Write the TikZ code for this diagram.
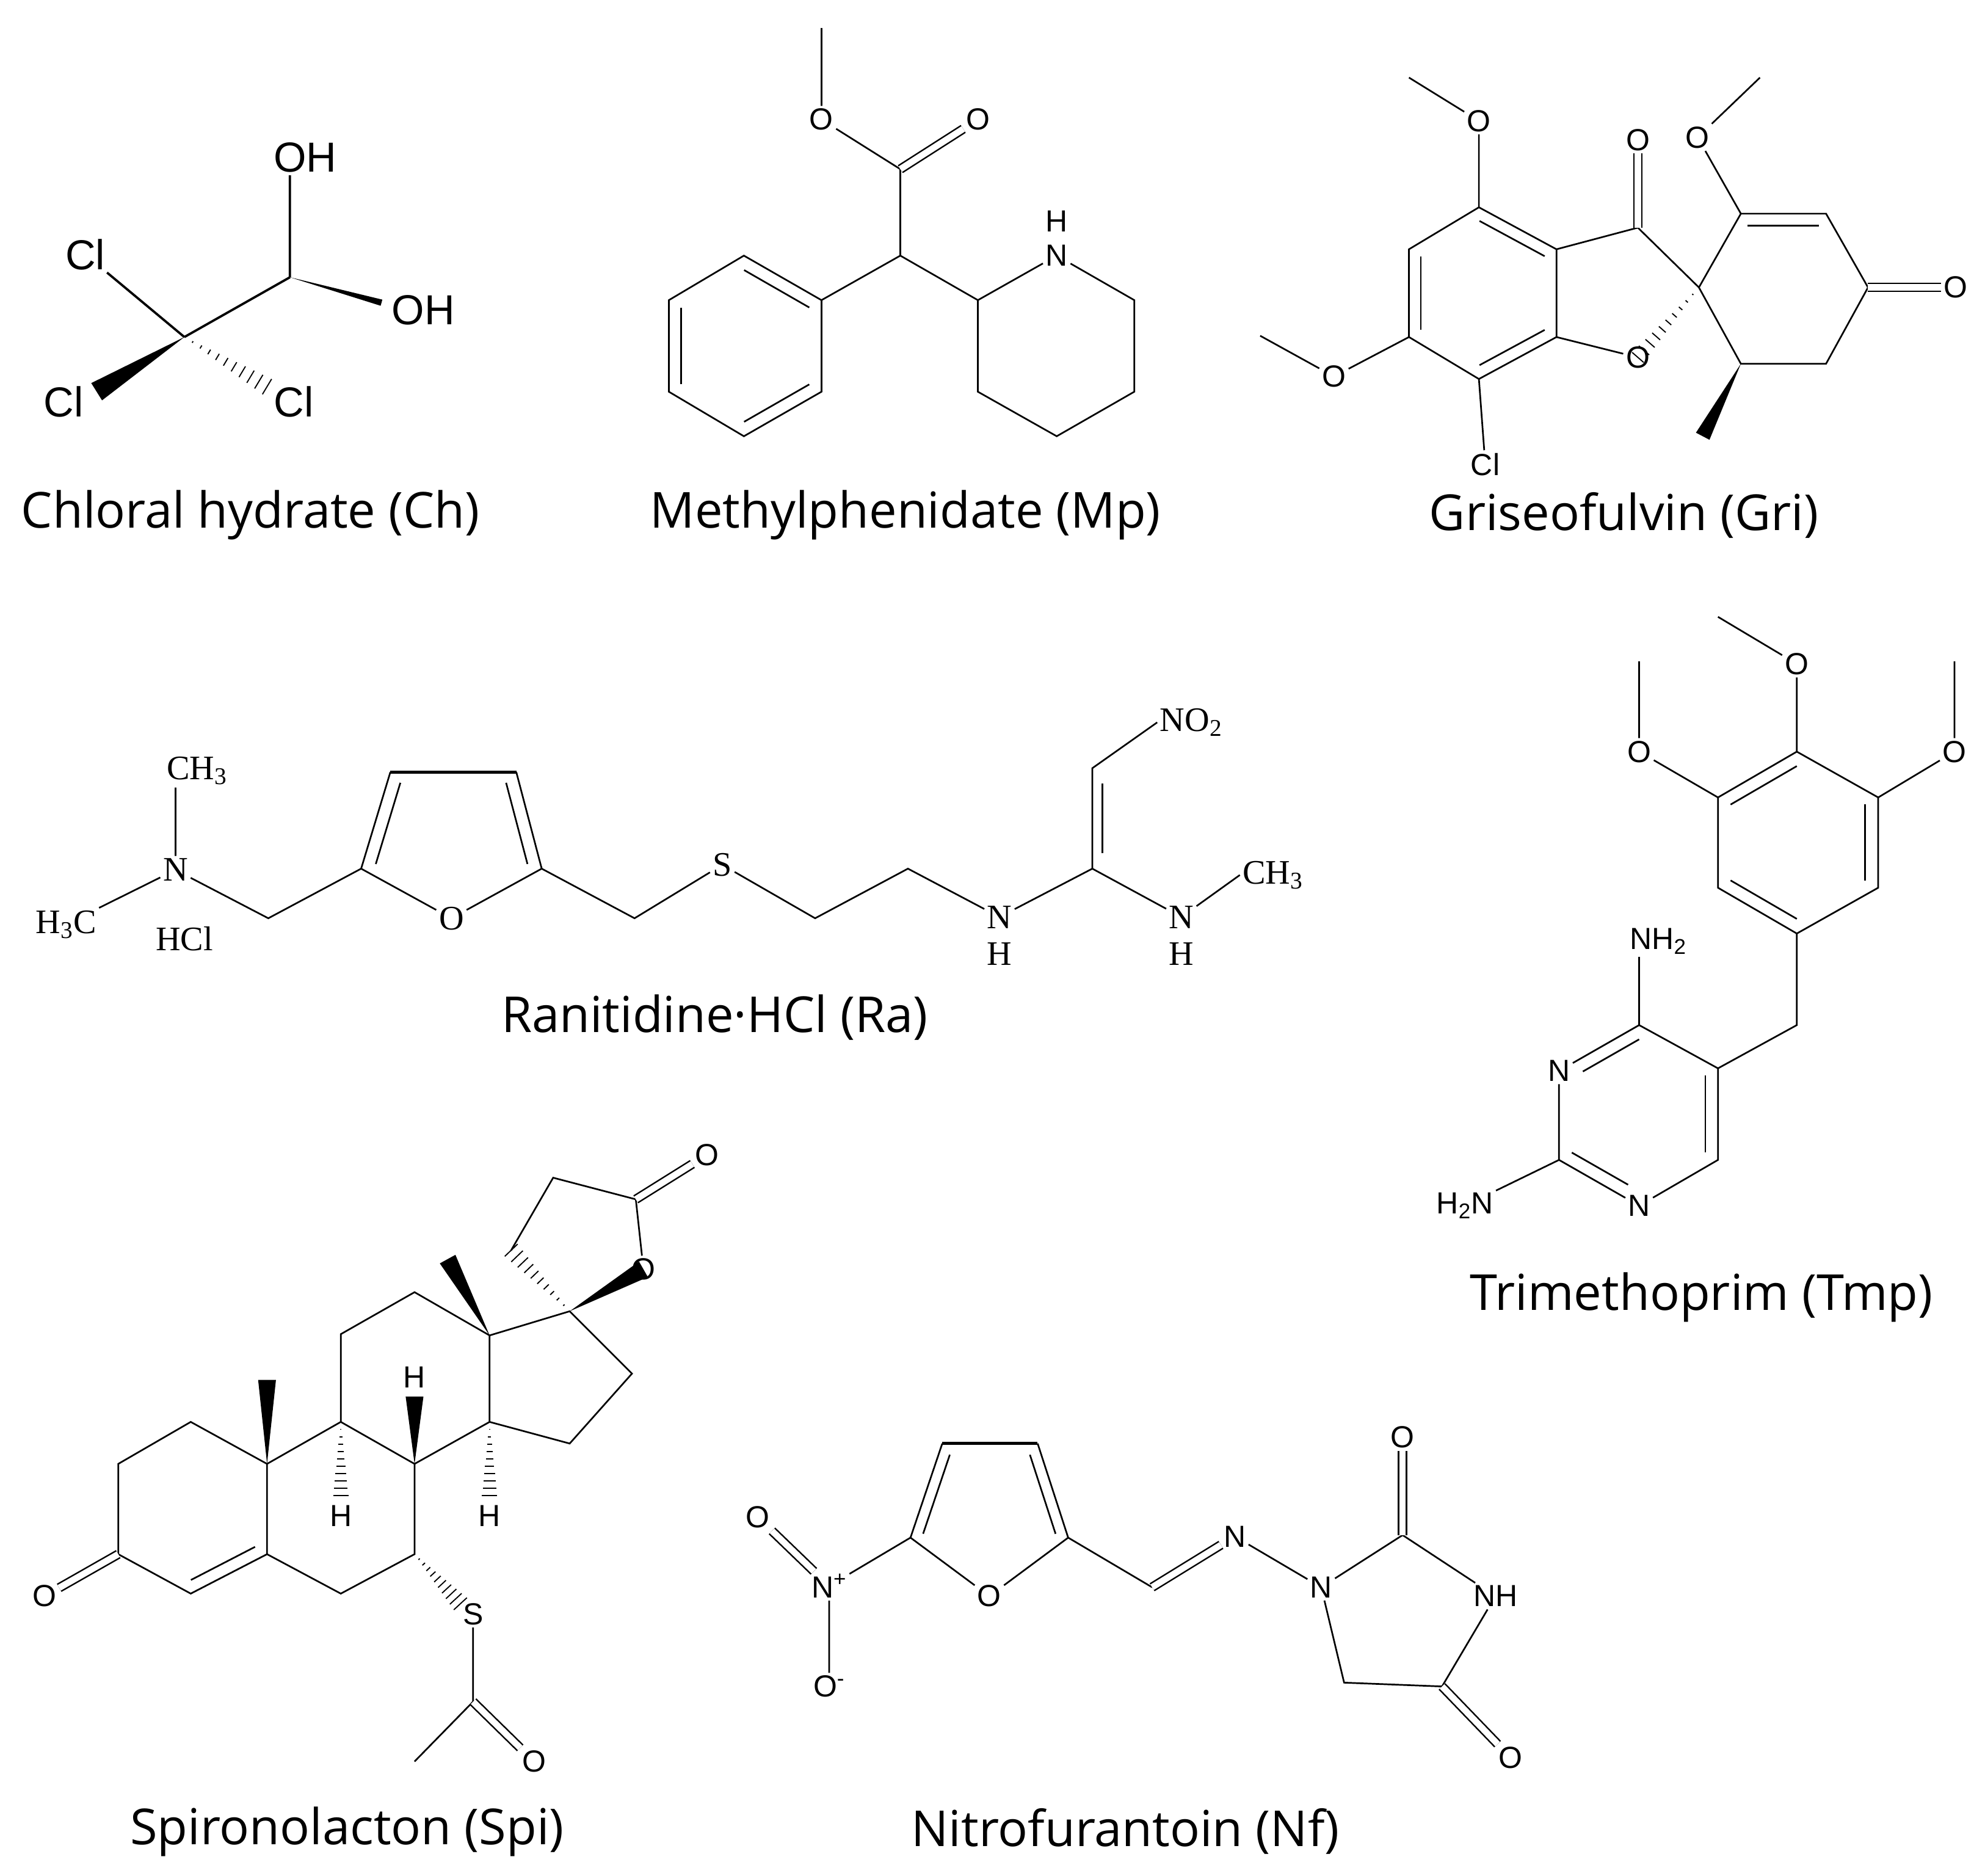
\documentclass[tikz,border=0pt]{standalone}
\usepackage{fontspec}
\usetikzlibrary{calc}
\newfontfamily\capf{Open Sans}
\newfontfamily\atomf{Liberation Sans}
\newfontfamily\tmsf{Liberation Serif}
\newcommand\inr[4][]{\draw[bd,#1] ($(#2)!0.16!(#4)$) -- ($(#3)!0.16!(#4)$);}
\newcommand\wdg[3]{\fill ($(#2)!#3!90:(#1)$) -- (#1) -- ($(#2)!#3!-90:(#1)$) -- cycle;}
\newcommand\hsh[3]{\foreach \t in {0.1,0.2,...,1.0}{\pgfmathsetmacro\hw{#3*\t}\draw[line width=0.9pt] ($(#1)!\t!(#2)!\hw pt!90:(#2)$) -- ($(#1)!\t!(#2)!\hw pt!-90:(#2)$);}}
\begin{document}
\begin{tikzpicture}[x=1pt,y=-1pt,
  bd/.style={line width=1.3pt},
  dbl/.style={line width=1.2pt,double distance=5pt},
  atm/.style={font=\atomf\fontsize{24}{24}\selectfont,inner sep=2pt},
  atl/.style={font=\atomf\fontsize{33}{33}\selectfont,inner sep=2pt},
  atr/.style={font=\tmsf\fontsize{27}{27}\selectfont,inner sep=2pt},
  capt/.style={font=\capf\fontsize{39}{45}\selectfont}]
\useasboundingbox (0,0) rectangle (1561,1475);
% ---------- Chloral hydrate
\coordinate (chA) at (145,265);
\coordinate (chB) at (228,218);
\node[atl] (chCl1) at (67,200) {Cl};
\node[atl] (chOH1) at (240,124) {OH};
\node[atl] (chOH2) at (333,244) {OH};
\node[atl] (chCl2) at (50,316) {Cl};
\node[atl] (chCl3) at (231,316) {Cl};
\coordinate (chW) at (300,238);
\coordinate (chW2) at (76,308);
\coordinate (chH) at (210,304);
\draw[line width=1.8pt] (chA) -- (chCl1) (chA) -- (chB) (chB) -- (chB |- chOH1.south);
\wdg{chB}{chW}{2.5pt}
\wdg{chA}{chW2}{8pt}
\hsh{chA}{chH}{7}
\node[capt] (capCh) at (197,405) {Chloral hydrate (Ch)};
% ---------- Methylphenidate
\coordinate (mpMe) at (646,22);
\node[atm] (mpO1) at (646,94) {O};
\node[atm] (mpO2) at (769,94) {O};
\coordinate (mpC) at (708,133);
\coordinate (mpCH) at (708,201);
\coordinate (mpb1) at (646,236);
\coordinate (mpb2) at (585,201);
\coordinate (mpb3) at (526,236);
\coordinate (mpb4) at (526,308);
\coordinate (mpb5) at (585,343);
\coordinate (mpb6) at (646,308);
\coordinate (mpbc) at (586,272);
\coordinate (mpp2) at (769,236);
\node[atm] (mpN) at (831,201) {N};
\node[atm] (mpH) at (831,174) {H};
\coordinate (mpp4) at (892,236);
\coordinate (mpp5) at (892,308);
\coordinate (mpp6) at (831,343);
\coordinate (mpp7) at (769,308);
\draw[bd] (mpMe) -- (mpO1) -- (mpC) -- (mpCH) -- (mpb1) (mpCH) -- (mpp2);
\draw[dbl] (mpC) -- (mpO2);
\draw[bd] (mpb1) -- (mpb2) -- (mpb3) -- (mpb4) -- (mpb5) -- (mpb6) -- cycle;
\inr{mpb1}{mpb2}{mpbc} \inr{mpb3}{mpb4}{mpbc} \inr{mpb5}{mpb6}{mpbc}
\draw[bd] (mpp2) -- (mpN) -- (mpp4) -- (mpp5) -- (mpp6) -- (mpp7) -- (mpp2);
\node[capt] (capMp) at (712,405) {Methylphenidate (Mp)};
% ---------- Griseofulvin
\coordinate (gMe1) at (1108,61);
\node[atm] (gO1) at (1163,95) {O};
\coordinate (g4) at (1163,163);
\coordinate (g5) at (1108,196);
\coordinate (g6) at (1108,265);
\node[atm] (gO2) at (1049,296) {O};
\coordinate (gMe2) at (991,264);
\coordinate (g7) at (1163,298);
\node[atm] (gCl) at (1168,365) {Cl};
\coordinate (g7a) at (1224,265);
\coordinate (g3a) at (1224,196);
\coordinate (gbc) at (1166,230);
\coordinate (g3) at (1288,179);
\node[atm] (gO3) at (1288,110) {O};
\node[atm] (gOr) at (1288,281) {O};
\coordinate (gsp) at (1336,226);
\coordinate (gc2) at (1369,168);
\node[atm] (gO4) at (1335,108) {O};
\coordinate (gMe3) at (1384,61);
\coordinate (gc3) at (1436,168);
\coordinate (gc4) at (1469,226);
\node[atm] (gO5) at (1538,226) {O};
\coordinate (gc5) at (1436,286);
\coordinate (gc6) at (1369,286);
\coordinate (gcc) at (1402,227);
\coordinate (gMe4) at (1339,343);
\draw[bd] (gMe1) -- (gO1) -- (g4);
\draw[bd] (g4) -- (g5) -- (g6) -- (g7) -- (g7a) -- (g3a) -- cycle;
\draw[bd] (g6) -- (gO2) -- (gMe2) (g7) -- (gCl) (g3a) -- (g3) -- (gsp) (g7a) -- (gOr);
\inr{g4}{g3a}{gbc} \inr{g5}{g6}{gbc} \inr{g7}{g7a}{gbc}
\draw[dbl] (g3) -- (gO3);
\hsh{gsp}{gOr}{6}
\draw[bd] (gsp) -- (gc2) -- (gc3) -- (gc4) -- (gc5) -- (gc6) -- (gsp) (gc2) -- (gO4) -- (gMe3);
\inr{gc2}{gc3}{gcc}
\draw[dbl] (gc4) -- (gO5);
\wdg{gc6}{gMe4}{6pt}
\node[capt] (capGri) at (1277,405) {Griseofulvin (Gri)};
% ---------- Ranitidine
\node[atr] (rN) at (138,684) {N};
\node[atr] (rMe1) at (155,606) {CH\textsubscript{3}};
\node[atr] (rMe2) at (52,727) {H\textsubscript{3}C};
\node[atr] (rHCl) at (145,738) {HCl};
\coordinate (rc1) at (211,722);
\coordinate (rf2) at (284,683);
\coordinate (rf3) at (307,607);
\coordinate (rf4) at (406,607);
\coordinate (rf5) at (426,683);
\node[atr] (rO) at (355,722) {O};
\coordinate (rfc) at (356,660);
\coordinate (rc2) at (499,722);
\node[atr] (rS) at (568,680) {S};
\coordinate (rc3) at (641,722);
\coordinate (rc4) at (714,683);
\node[atr] (rN1) at (786,721) {N};
\node[atr] (rH1) at (786,750) {H};
\coordinate (rg) at (859,683);
\coordinate (rgh) at (859,604);
\node[atr,anchor=west] (rNO2) at (910,568) {NO\textsubscript{2}};
\node[atr] (rN2) at (929,721) {N};
\node[atr] (rH2) at (929,750) {H};
\node[atr,anchor=west] (rMe3) at (975,688) {CH\textsubscript{3}};
\draw[bd] (rN) -- (rN |- rMe1.south) (rN) -- (rMe2.north east) (rN) -- (rc1) -- (rf2) -- (rO) -- (rf5) -- (rc2) -- (rS) -- (rc3) -- (rc4) -- (rN1) -- (rg) -- (rN2) -- (rMe3.west);
\draw[bd] (rf2) -- (rf3) (rf5) -- (rf4);
\draw[line width=2.4pt] (rf3) -- (rf4);
\inr{rf2}{rf3}{rfc} \inr{rf4}{rf5}{rfc}
\draw[bd] (rg) -- (rgh) -- (rNO2.west);
\draw[bd] ($(rg)+(8,-12)$) -- ($(rgh)+(8,12)$);
\node[capt] (capRa) at (562,800) {Ranitidine·HCl (Ra)};
% ---------- Trimethoprim
\coordinate (tMe1) at (1351,485);
\node[atm] (tO1) at (1413,522) {O};
\coordinate (t4) at (1413,591);
\coordinate (t3) at (1351,627);
\node[atm] (tO2) at (1289,591) {O};
\coordinate (tMe2) at (1289,520);
\coordinate (t5) at (1477,627);
\node[atm] (tO3) at (1537,591) {O};
\coordinate (tMe3) at (1537,520);
\coordinate (t2) at (1351,698);
\coordinate (t6) at (1477,698);
\coordinate (t1) at (1413,734);
\coordinate (tbc) at (1413,662);
\coordinate (tCH) at (1413,806);
\coordinate (tp5) at (1351,840);
\coordinate (tp4) at (1289,806);
\node[atm] (tNH2) at (1304,740) {NH\textsubscript{2}};
\node[atm] (tN3) at (1226,842) {N};
\coordinate (tp2) at (1226,912);
\node[atm] (tH2N) at (1152,948) {H\textsubscript{2}N};
\node[atm] (tN1) at (1289,948) {N};
\coordinate (tp6) at (1351,912);
\coordinate (tpc) at (1289,876);
\draw[bd] (tMe1) -- (tO1) -- (t4) -- (t3) -- (t2) -- (t1) -- (t6) -- (t5) -- (t4);
\draw[bd] (t3) -- (tO2) -- (tMe2) (t5) -- (tO3) -- (tMe3) (t1) -- (tCH) -- (tp5);
\inr{t3}{t4}{tbc} \inr{t5}{t6}{tbc} \inr{t1}{t2}{tbc}
\draw[bd] (tp5) -- (tp4) -- (tN3) -- (tp2) -- (tN1) -- (tp6) -- (tp5);
\draw[bd] (tp4) -- (tp4 |- tNH2.south) (tp2) -- (tH2N);
\inr[shorten <=10pt]{tN3}{tp4}{tpc} \inr{tp5}{tp6}{tpc} \inr[shorten >=10pt]{tp2}{tN1}{tpc}
\node[capt] (capTmp) at (1338,1020) {Trimethoprim (Tmp)};
% ---------- Spironolactone
\coordinate (s1) at (150,1118);
\coordinate (s2) at (93,1151);
\coordinate (s3) at (93,1222);
\node[atm] (sO3) at (35,1255) {O};
\coordinate (s4) at (150,1253);
\coordinate (s5) at (210,1222);
\coordinate (s6) at (268,1253);
\coordinate (s7) at (326,1222);
\coordinate (s8) at (326,1151);
\coordinate (s9) at (268,1118);
\coordinate (s10) at (210,1151);
\coordinate (sMe10) at (210,1085);
\coordinate (s11) at (268,1049);
\coordinate (s12) at (326,1016);
\coordinate (s13) at (385,1050);
\coordinate (sMe13) at (352,990);
\coordinate (s14) at (385,1118);
\coordinate (s15) at (448,1135);
\coordinate (s16) at (497,1080);
\coordinate (s17) at (448,1031);
\node[atm] (sOr) at (506,998) {O};
\coordinate (sCO) at (500,943);
\node[atm] (sOl) at (556,908) {O};
\coordinate (sL1) at (435,926);
\coordinate (sL2) at (402,983);
\node[atm] (sH8) at (326,1083) {H};
\coordinate (sH8w) at (326,1098);
\node[atm] (sH9) at (268,1192) {H};
\coordinate (sH9h) at (268,1176);
\node[atm] (sH14) at (385,1192) {H};
\coordinate (sH14h) at (385,1176);
\node[atm] (sS) at (372,1269) {S};
\coordinate (sSh) at (362,1261);
\coordinate (sCa) at (372,1338);
\coordinate (sMa) at (326,1385);
\node[atm] (sOa) at (420,1385) {O};
\coordinate (sAc1) at (151,1186);
\draw[bd] (s10) -- (s1) -- (s2) -- (s3) -- (s4) -- (s5) -- (s10) (s5) -- (s6) -- (s7) -- (s8) -- (s9) -- (s10);
\draw[dbl] (s3) -- (sO3);
\inr{s4}{s5}{sAc1}
\draw[bd] (s9) -- (s11) -- (s12) -- (s13) -- (s14) -- (s8) (s13) -- (s17) -- (s16) -- (s15) -- (s14);
\draw[bd] (sOr) -- (sCO) -- (sL1) -- (sL2);
\draw[dbl] (sCO) -- (sOl);
\wdg{s17}{sOr}{7pt}
\hsh{s17}{sL2}{7}
\wdg{s10}{sMe10}{7pt}
\wdg{s13}{sMe13}{7pt}
\wdg{s8}{sH8w}{7pt}
\hsh{s9}{sH9h}{6}
\hsh{s14}{sH14h}{6}
\hsh{s7}{sSh}{7}
\draw[bd] (sS) -- (sCa) -- (sMa);
\draw[dbl] (sCa) -- (sOa);
\node[capt] (capSpi) at (273,1440) {Spironolacton (Spi)};
% ---------- Nitrofurantoin
\coordinate (nf3) at (741,1135);
\coordinate (nf4) at (816,1135);
\coordinate (nf5) at (716,1209);
\coordinate (nf2) at (840,1209);
\node[atm] (nfO) at (778,1255) {O};
\coordinate (nfc) at (778,1190);
\node[atm] (nfN) at (652,1247) {N\textsuperscript{+}};
\node[atm] (nfOt) at (596,1193) {O};
\node[atm] (nfOm) at (652,1326) {O\textsuperscript{-}};
\coordinate (nfCH) at (906,1248);
\node[atm] (nfN2) at (971,1208) {N};
\node[atm] (nfN1) at (1039,1248) {N};
\coordinate (nfC2) at (1103,1207);
\node[atm] (nfO2) at (1103,1130) {O};
\node[atm] (nfNH) at (1176,1255) {NH};
\coordinate (nfC4) at (1134,1326);
\node[atm] (nfO4) at (1188,1382) {O};
\coordinate (nfC5) at (1057,1323);
\draw[bd] (nf5) -- (nf3) (nf4) -- (nf2) -- (nfO) -- (nf5);
\draw[line width=2.4pt] (nf3) -- (nf4);
\inr{nf5}{nf3}{nfc} \inr{nf4}{nf2}{nfc}
\draw[bd] (nf5) -- (nfN) (nfN) -- (nfOm) (nf2) -- (nfCH);
\draw[dbl] (nfN) -- (nfOt);
\draw[dbl] (nfCH) -- (nfN2);
\draw[bd] (nfN2) -- (nfN1) -- (nfC2) -- (nfNH) -- (nfC4) -- (nfC5) -- (nfN1);
\draw[dbl] (nfC2) -- (nfO2);
\draw[dbl] (nfC4) -- (nfO4);
\node[capt] (capNf) at (885,1440) {Nitrofurantoin (Nf)};
\end{tikzpicture}
\end{document}
